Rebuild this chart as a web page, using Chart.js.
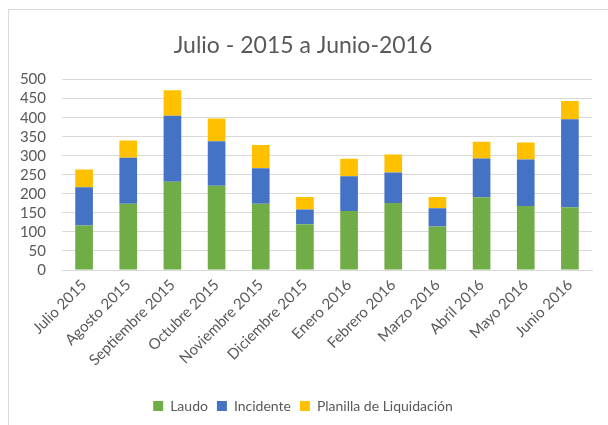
<!DOCTYPE html>
<html>
<head>
<meta charset="utf-8">
<script src="https://cdn.jsdelivr.net/npm/chart.js@4.4.1/dist/chart.umd.min.js"></script>
<style>
    body { margin: 0; background: #fff; }
    #frame { position: absolute; left: 8px; top: 9px; width: 640px; height: 440px; border: 1px solid #d9d9d9; }
    #wrap { position: absolute; left: 0; top: 0; width: 608px; height: 425px; }
</style>
</head>
<body>
<div id="frame"></div>
<div id="wrap"><canvas id="chart" width="608" height="425"></canvas></div>
<script>
const months = ["Julio 2015", "Agosto 2015", "Septiembre 2015", "Octubre 2015", "Noviembre 2015", "Diciembre 2015",
    "Enero 2016", "Febrero 2016", "Marzo 2016", "Abril 2016", "Mayo 2016", "Junio 2016"];
const laudo = [117, 174, 232, 221, 174, 120, 155, 176, 114, 191, 168, 165];
const incidente = [100, 121, 173, 117, 93, 39, 91, 80, 48, 102, 122, 231];
const planilla = [47, 45, 67, 60, 61, 33, 46, 47, 30, 44, 45, 48];

const ctx = document.querySelector("#chart");
const grey = "#595959";
const fontFamily = "Lato, 'Noto Sans', sans-serif";

function barSet(label, data, color) {
    return {
        label: label,
        data: data,
        backgroundColor: color,
        borderWidth: 0,
        categoryPercentage: 1,
        barPercentage: 0.4,
    };
}

const config = {
    type: "bar",
    data: {
        labels: months,
        datasets: [
            barSet("Laudo", laudo, "#70AD47"),
            barSet("Incidente", incidente, "#4472C4"),
            barSet("Planilla de Liquidación", planilla, "#FFC000"),
        ],
    },
    options: {
        responsive: false,
        animation: false,
        layout: { padding: { left: 14, right: 16, top: 32, bottom: 2 } },
        plugins: {
            title: {
                display: true,
                text: "Julio - 2015 a Junio-2016",
                color: grey,
                font: { family: fontFamily, size: 23, weight: "normal" },
                padding: { top: 0, bottom: 20 },
            },
            legend: {
                position: "bottom",
                labels: {
                    color: grey,
                    boxWidth: 10,
                    boxHeight: 10,
                    padding: 9,
                    font: { family: fontFamily, size: 14 },
                },
            },
            tooltip: { enabled: false },
        },
        scales: {
            x: {
                stacked: true,
                grid: { display: false, drawTicks: false },
                border: { color: "#d9d9d9" },
                ticks: {
                    color: grey,
                    minRotation: 45,
                    maxRotation: 45,
                    padding: 6,
                    font: { family: fontFamily, size: 15 },
                },
                afterFit: (scale) => { scale.height = 120; },
            },
            y: {
                stacked: true,
                min: 0,
                max: 500,
                grid: { color: "#d9d9d9", drawTicks: false },
                border: { display: false },
                ticks: {
                    stepSize: 50,
                    autoSkip: false,
                    color: grey,
                    padding: 16,
                    font: { family: fontFamily, size: 15 },
                },
                afterFit: (scale) => { scale.width = 48; },
            },
        },
    },
};

const myChart = new Chart(ctx, config);
</script>
</body>
</html>
